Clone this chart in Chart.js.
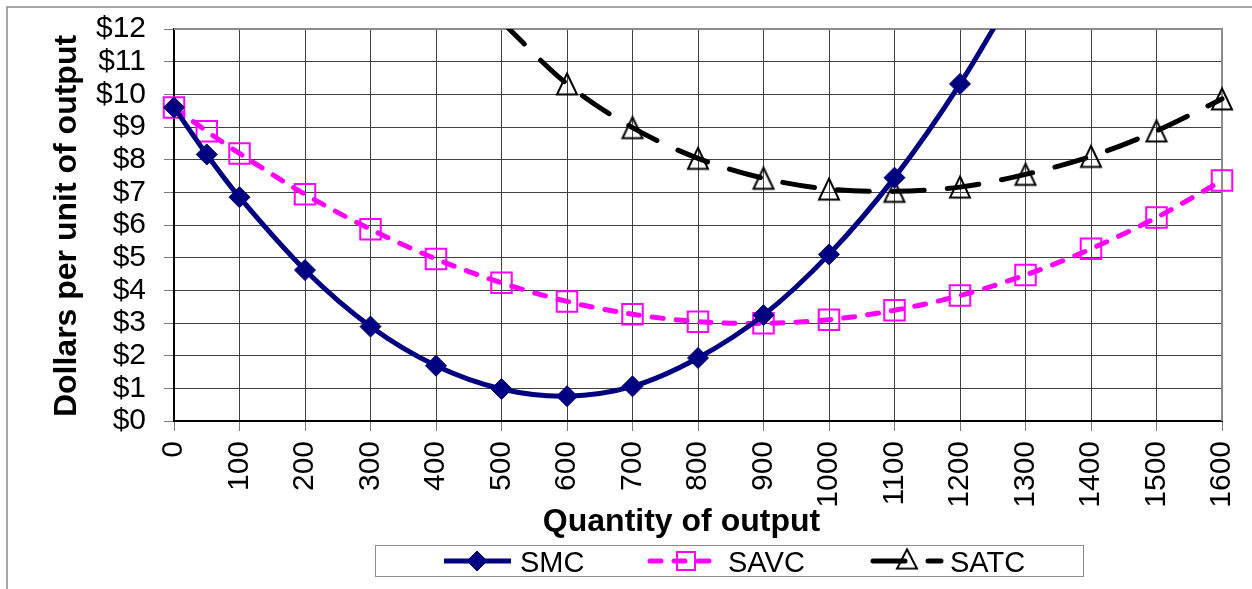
<!DOCTYPE html>
<html>
<head>
<meta charset="utf-8">
<script src="https://cdn.jsdelivr.net/npm/chart.js@4/dist/chart.umd.min.js"></script>
<style>
  html, body { margin: 0; padding: 0; background: #ffffff; overflow: hidden; }
  canvas { display: block; }
</style>
</head>
<body>
<canvas id="costChart" width="1252" height="589"></canvas>
<script>
// Short-run cost curves: marginal, average variable and average total cost
const smcQty   = [0, 50, 100, 200, 300, 400, 500, 600, 700, 800, 900, 1000, 1100, 1200, 1300];
const smcCost  = [9.60, 8.16, 6.85, 4.62, 2.89, 1.69, 0.98, 0.76, 1.06, 1.93, 3.24, 5.10, 7.45, 10.32, 13.70];

const savcQty  = [0, 50, 100, 200, 300, 400, 500, 600, 700, 800, 900, 1000, 1100, 1200, 1300, 1400, 1500, 1600];
const savcCost = [9.60, 8.87, 8.19, 6.94, 5.87, 4.96, 4.23, 3.66, 3.27, 3.04, 2.99, 3.10, 3.39, 3.84, 4.47, 5.27, 6.23, 7.36];

const satcQty  = [500, 600, 700, 800, 900, 1000, 1100, 1200, 1300, 1400, 1500, 1600];
const satcCost = [12.23, 10.32, 8.98, 8.04, 7.43, 7.10, 7.03, 7.16, 7.55, 8.10, 8.88, 9.86];

const seriesNames = ['SMC', 'SAVC', 'SATC'];
const xTitle = 'Quantity of output';
const yTitle = 'Dollars per unit of output';
const xMax = 1600, xStep = 100;
const yMax = 12, yStep = 1;

const FONT = '"Liberation Sans", Arial, Helvetica, sans-serif';
const NAVY = '#000080', MAGENTA = '#ff00ff', BLACK = '#000000';

function pairs(xs, ys) { return xs.map((x, i) => ({ x: x, y: ys[i] })); }

// Markers are only drawn for points inside the value range
function markerSize(r) {
  return (ctx) => (ctx.raw && ctx.raw.y > yMax ? 0 : r);
}

// Open triangle marker whose bounding box is centred on the point
function makeTriangle(color) {
  const c = document.createElement('canvas');
  c.width = 26; c.height = 26;
  const g = c.getContext('2d');
  g.strokeStyle = color;
  g.lineWidth = 2;
  g.lineJoin = 'miter';
  g.beginPath();
  g.moveTo(13, 2.5);
  g.lineTo(23, 23.5);
  g.lineTo(3, 23.5);
  g.closePath();
  g.stroke();
  return c;
}
const triangleMarker = makeTriangle(BLACK);

const markerClip = { left: 24, right: 24, top: 0, bottom: 24 };

const datasets = [
  {
    label: seriesNames[0],
    data: pairs(smcQty, smcCost),
    borderColor: NAVY, borderWidth: 5, tension: 0.33,
    pointStyle: 'rectRot', pointRadius: markerSize(10.5), pointHoverRadius: markerSize(10.5),
    pointBackgroundColor: NAVY, pointBorderColor: NAVY, pointBorderWidth: 1,
    clip: markerClip, order: 0
  },
  {
    label: seriesNames[1],
    data: pairs(savcQty, savcCost),
    borderColor: MAGENTA, borderWidth: 5, tension: 0.33,
    borderDash: [11, 13], borderCapStyle: 'round',
    pointStyle: 'rect', pointRadius: markerSize(14.5), pointHoverRadius: markerSize(14.5),
    pointBackgroundColor: 'rgba(0,0,0,0)', pointBorderColor: MAGENTA, pointBorderWidth: 2,
    clip: markerClip, order: 1
  },
  {
    label: seriesNames[2],
    data: pairs(satcQty, satcCost),
    borderColor: BLACK, borderWidth: 5, tension: 0.33,
    borderDash: [32, 23], borderCapStyle: 'round',
    pointStyle: triangleMarker, pointRadius: markerSize(12), pointHoverRadius: markerSize(12),
    pointBackgroundColor: 'rgba(0,0,0,0)', pointBorderColor: BLACK, pointBorderWidth: 2,
    clip: markerClip, order: 2
  }
];

// Frame, plot border, axis titles and legend
const decorations = {
  id: 'decorations',
  beforeDatasetsDraw(chart) {
    const { ctx, chartArea: a } = chart;
    ctx.save();
    ctx.strokeStyle = '#8c8c8c';
    ctx.lineWidth = 2;
    ctx.beginPath();
    ctx.moveTo(a.left, a.top);
    ctx.lineTo(a.right, a.top);
    ctx.lineTo(a.right, a.bottom);
    ctx.stroke();
    ctx.restore();
  },
  afterDraw(chart) {
    const { ctx } = chart;
    ctx.save();
    // outer frame
    ctx.strokeStyle = '#8c8c8c';
    ctx.lineWidth = 1.5;
    ctx.beginPath();
    ctx.moveTo(7, 589);
    ctx.lineTo(7, 7);
    ctx.lineTo(1252, 7);
    ctx.stroke();

    // axis titles
    ctx.fillStyle = '#000';
    ctx.font = 'bold 32px ' + FONT;
    ctx.textAlign = 'center';
    ctx.textBaseline = 'alphabetic';
    ctx.fillText(xTitle, 681.5, 531);
    ctx.save();
    ctx.translate(76, 226);
    ctx.rotate(-Math.PI / 2);
    ctx.fillText(yTitle, 0, 0);
    ctx.restore();

    // legend box
    ctx.strokeStyle = '#8c8c8c';
    ctx.lineWidth = 1;
    ctx.strokeRect(375.5, 545.5, 708, 31);

    const cy = 561;
    const items = [
      { x0: 444, x1: 511, mx: 477, tx: 520 },
      { x0: 650, x1: 721, mx: 686, tx: 728 },
      { x0: 873, x1: 941, mx: 907, tx: 950 }
    ];
    chart.data.datasets.forEach((ds, i) => {
      const it = items[i];
      ctx.save();
      ctx.strokeStyle = ds.borderColor;
      ctx.lineWidth = ds.borderWidth;
      ctx.lineCap = ds.borderCapStyle || 'butt';
      ctx.setLineDash(ds.borderDash || []);
      ctx.beginPath();
      ctx.moveTo(it.x0, cy);
      ctx.lineTo(it.x1, cy);
      ctx.stroke();
      ctx.setLineDash([]);
      ctx.lineCap = 'butt';
      ctx.lineWidth = ds.pointBorderWidth;
      ctx.strokeStyle = ds.pointBorderColor;
      ctx.fillStyle = ds.pointBackgroundColor;
      ctx.beginPath();
      if (ds.pointStyle === 'rectRot') {
        const r = 10;
        ctx.moveTo(it.mx - r, cy); ctx.lineTo(it.mx, cy - r);
        ctx.lineTo(it.mx + r, cy); ctx.lineTo(it.mx, cy + r);
        ctx.closePath(); ctx.fill(); ctx.stroke();
      } else if (ds.pointStyle === 'rect') {
        ctx.rect(it.mx - 9, cy - 9, 18, 18);
        ctx.stroke();
      } else {
        const img = ds.pointStyle;
        ctx.drawImage(img, it.mx - img.width / 2, cy - img.height / 2 - 1, img.width, img.height * 0.92);
      }
      ctx.fillStyle = '#000';
      ctx.font = '29px ' + FONT;
      ctx.textAlign = 'left';
      ctx.textBaseline = 'alphabetic';
      ctx.fillText(ds.label, it.tx, cy + 10.5);
      ctx.restore();
    });
    ctx.restore();
  }
};

// Pin the axis boxes so the plot area sits at a fixed spot
function pinScale(size, prop) {
  return function (scale) {
    scale[prop] = size;
    scale.paddingLeft = 0; scale.paddingRight = 0;
    scale.paddingTop = 0; scale.paddingBottom = 0;
  };
}

new Chart(document.getElementById('costChart'), {
  type: 'line',
  data: { datasets: datasets },
  plugins: [decorations],
  options: {
    responsive: false,
    animation: false,
    devicePixelRatio: 1,
    events: [],
    layout: { padding: { left: 0, right: 30, top: 29, bottom: 0 } },
    plugins: { legend: { display: false }, tooltip: { enabled: false }, title: { display: false } },
    scales: {
      x: {
        type: 'linear', min: 0, max: xMax,
        afterFit: pinScale(168, 'height'),
        border: { color: '#000', width: 2 },
        grid: { color: '#404040', lineWidth: 1, tickLength: 10, tickColor: '#7a7a7a' },
        ticks: {
          stepSize: xStep, autoSkip: false, minRotation: 90, maxRotation: 90, padding: 10,
          color: '#000', font: { family: FONT, size: 30 },
          callback: (v) => String(v)
        },
        title: { display: false }
      },
      y: {
        type: 'linear', min: 0, max: yMax,
        afterFit: pinScale(174, 'width'),
        border: { color: '#000', width: 2 },
        grid: { color: '#404040', lineWidth: 1, tickLength: 10, tickColor: '#7a7a7a' },
        ticks: {
          stepSize: yStep, autoSkip: false, padding: 18, color: '#000',
          font: { family: FONT, size: 30 },
          callback: (v) => '$' + v
        },
        title: { display: false }
      }
    }
  }
});
</script>
</body>
</html>
